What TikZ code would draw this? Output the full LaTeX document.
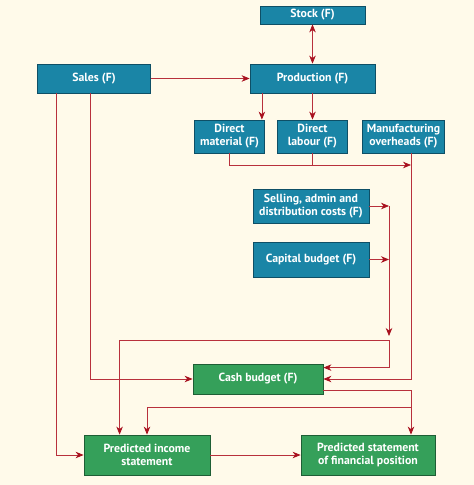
\documentclass[tikz,border=0pt]{standalone}
\usepackage{fontspec}
\setmainfont{PT Sans}
\usetikzlibrary{shapes,arrows.meta,calc,positioning}
\definecolor{bgcream}{HTML}{FFFAEA}
\definecolor{boxblue}{HTML}{1A85A6}
\definecolor{edgeblue}{HTML}{0E4F66}
\definecolor{boxgreen}{HTML}{35A05A}
\definecolor{edgegreen}{HTML}{1E5E35}
\definecolor{linkred}{HTML}{B8303C}
\definecolor{tipred}{HTML}{A8101E}
\tikzstyle{block} = [rectangle, draw=edgeblue, fill=boxblue, text=white,
    font=\bfseries\fontsize{11.8}{13}\selectfont, align=center, inner sep=0pt, line width=0.8pt]
\tikzstyle{result} = [block, draw=edgegreen, fill=boxgreen]
\tikzstyle{line} = [draw=linkred, line width=0.8pt, -{Stealth[length=8pt,width=6.5pt,inset=2.5pt,color=tipred]}]

\begin{document}
\begin{tikzpicture}[x=1pt, y=1pt, node distance = 60pt]
    \fill[bgcream] (0,0) rectangle (474,-485);
    \useasboundingbox (0,0) rectangle (474,-485);
    % Place nodes
    \node [block, minimum width=105pt, minimum height=18pt] (stock) at (312.5,-15) {Stock (F)};
    \node [block, minimum width=125pt, minimum height=29pt, below of=stock, node distance=63.5pt] (prod) {Production (F)};
    \node [block, minimum width=113pt, minimum height=29pt, left of=prod, node distance=218.5pt] (sales) {Sales (F)};
    \node [block, minimum width=70pt, minimum height=33pt, below of=prod, node distance=58pt] (dlab) {Direct\\labour (F)};
    \node [block, minimum width=70pt, minimum height=33pt, left of=dlab, node distance=83pt] (dmat) {Direct\\material (F)};
    \node [block, minimum width=82pt, minimum height=33pt, right of=dlab, node distance=91pt] (moh) {Manufacturing\\overheads (F)};
    \node [block, minimum width=116pt, minimum height=34pt] (sell) at (311,-206) {Selling, admin and\\distribution costs (F)};
    \node [block, minimum width=116pt, minimum height=35pt, below of=sell, node distance=53.5pt] (capb) {Capital budget (F)};
    \node [result, minimum width=130pt, minimum height=30pt] (cash) at (258,-379) {Cash budget (F)};
    \node [result, minimum width=126pt, minimum height=40pt] (pinc) at (147,-455) {Predicted income\\statement};
    \node [result, minimum width=134pt, minimum height=40pt, right of=pinc, node distance=221pt] (pfin) {Predicted statement\\of financial position};
    % Junctions
    \coordinate (j1) at (411,-165);
    \coordinate (j2) at (389,-340);
    \coordinate (j3) at (411,-407);
    \coordinate (dm_in) at ($(dmat.north east)+(-3pt,0)$);
    % Draw edges
    \path [line, {Stealth[length=8pt,width=6.5pt,inset=2.5pt,color=tipred]}-{Stealth[length=8pt,width=6.5pt,inset=2.5pt,color=tipred]}] (stock.south) -- (prod.north);
    \path [line] (sales.east) -- (prod.west);
    \path [line] (dm_in |- prod.south) -- (dm_in);
    \path [line] (prod.south) -- (dlab.north);
    \path [line] (dmat.south) |- (j1);
    \draw [linkred, line width=0.8pt] (dlab.south) -- (dlab.south |- j1);
    \path [line] (moh.south -| j1) |- (cash.east);
    \path [line] (sell.east) -- (sell.east -| j2);
    \path [line] (capb.east) -- (capb.east -| j2);
    \path [line] (sell.east -| j2) -- ($(j2)+(0,4pt)$);
    \path [line] (j2) -| ($(pinc.north west)+(36pt,0)$);
    \path [line] (j2) |- ($(cash.north east)+(0,-4pt)$);
    \path [line] ($(sales.south west)+(19pt,0)$) |- (pinc.west);
    \path [line] ($(sales.south west)+(53pt,0)$) |- (cash.west);
    \path [line] ($(cash.south east)+(0,4pt)$) -| (pfin.north -| j1);
    \path [line] (j3) -| (pinc.north);
    \path [line] (pinc.east) -- (pfin.west);
\end{tikzpicture}
\end{document}
